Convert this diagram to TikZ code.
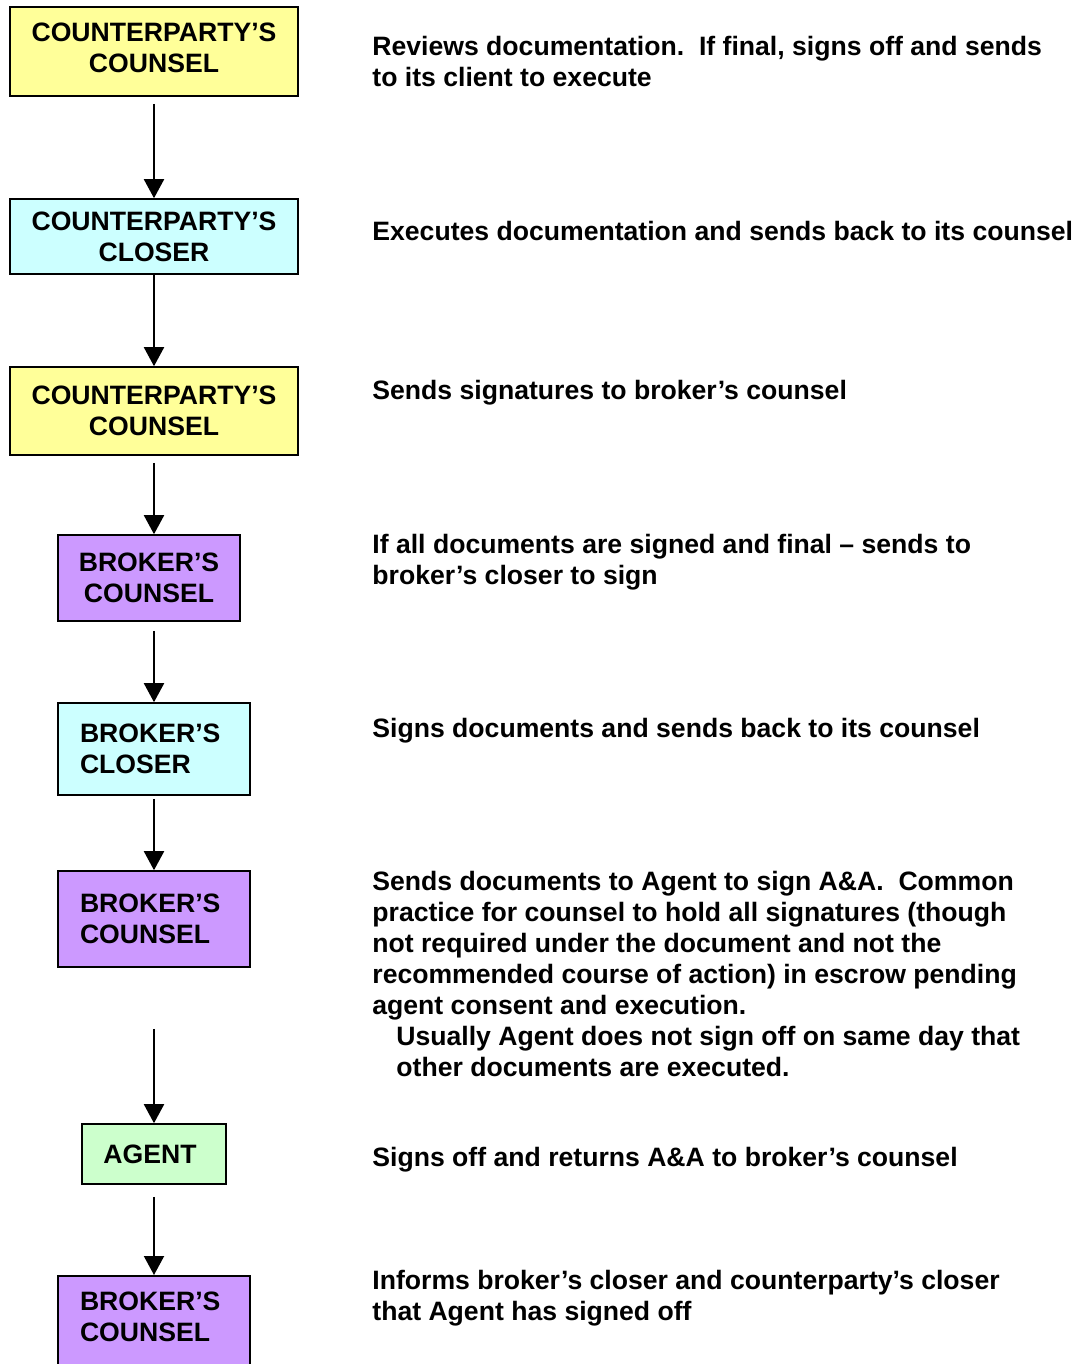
\documentclass[tikz,border=0pt]{standalone}
\usepackage{fontspec}
\setmainfont{Liberation Sans}
\usetikzlibrary{arrows.meta,positioning}
\definecolor{BoxYellow}{RGB}{255,255,153}
\definecolor{BoxCyan}{RGB}{204,255,255}
\definecolor{BoxPurple}{RGB}{204,153,255}
\definecolor{BoxGreen}{RGB}{204,255,204}
\newcommand{\flowfont}{\fontsize{13.3pt}{15.5pt}\selectfont\bfseries}
\tikzset{
  role/.style={draw=black,line width=0.8pt,inner sep=0pt,align=center,font=\flowfont},
  ybox/.style={role,fill=BoxYellow,minimum width=144pt},
  cbox/.style={role,fill=BoxCyan},
  pbox/.style={role,fill=BoxPurple},
  gbox/.style={role,fill=BoxGreen},
  lbox/.style={minimum width=96pt,text width=74pt,align=left},
  note/.style={anchor=north west,inner sep=0pt,align=left,font=\flowfont},
  arr/.style={-{Triangle[length=9.5pt,width=10pt]},line width=1pt},
}

\begin{document}
\begin{tikzpicture}[x=0.5pt,y=-0.5pt]
  \clip (0,0) rectangle (1088,1364);
  \fill[white] (0,0) rectangle (1088,1364);
  % roles
  \node[ybox,minimum height=44.5pt] (cpcounsel) at (154,51.5) {COUNTERPARTY’S\\COUNSEL\\[-12pt]\mbox{}};
  \node[cbox,minimum width=144pt,minimum height=37.5pt] (cpcloser) at (154,236.5) {COUNTERPARTY’S\\CLOSER};
  \node[ybox,minimum height=44pt] (cpcounselb) at (154,411) {COUNTERPARTY’S\\COUNSEL};
  \node[pbox,minimum width=91pt,minimum height=43pt] (bcounsel) at (149,578) {BROKER’S\\COUNSEL};
  \node[cbox,lbox,minimum height=46pt] (bcloser) at (154,749) {BROKER’S\\CLOSER};
  \node[pbox,lbox,minimum height=48pt] (bcounselb) at (154,919) {BROKER’S\\COUNSEL};
  \node[gbox,minimum width=72pt,minimum height=30pt] (agent) at (154,1154) {AGENT\hspace*{4pt}};
  \node[pbox,lbox,minimum height=50pt,anchor=north] (bcounselc) at (154,1275) {BROKER’S\\COUNSEL\\[-6.5pt]\mbox{}};
  % steps
  \node[note] (stepa) at (372,36) {Reviews documentation.\ \ If final, signs off and sends\\to its client to execute};
  \node[note] (stepb) at (372,221) {Executes documentation and sends back to its counsel};
  \node[note] (stepc) at (372,380) {Sends signatures to broker’s counsel};
  \node[note] (stepd) at (372,534) {If all documents are signed and final – sends to\\broker’s closer to sign};
  \node[note] (stepe) at (372,718) {Signs documents and sends back to its counsel};
  \node[note] (stepf) at (372,871) {Sends documents to Agent to sign A\&A.\ \ Common\\practice for counsel to hold all signatures (though\\not required under the document and not the\\recommended course of action) in escrow pending\\agent consent and execution.\\\hspace*{12pt}Usually Agent does not sign off on same day that\\\hspace*{12pt}other documents are executed.};
  \node[note] (stepg) at (372,1147) {Signs off and returns A\&A to broker’s counsel};
  \node[note] (steph) at (372,1270) {Informs broker’s closer and counterparty’s closer\\that Agent has signed off};
  % flow
  \draw[arr,shorten <=3.5pt] (cpcounsel) -- (cpcloser);
  \draw[arr] (cpcloser) -- (cpcounselb);
  \draw[arr,shorten <=3.5pt] (cpcounselb.south -| bcloser) -- (bcounsel.north -| bcloser);
  \draw[arr,shorten <=4.5pt] (bcounsel.south -| bcloser) -- (bcloser);
  \draw[arr,shorten <=1.5pt] (bcloser) -- (bcounselb);
  \draw[arr,shorten <=30.5pt] (bcounselb) -- (agent);
  \draw[arr,shorten <=6pt] (agent) -- (bcounselc);
\end{tikzpicture}
\end{document}
